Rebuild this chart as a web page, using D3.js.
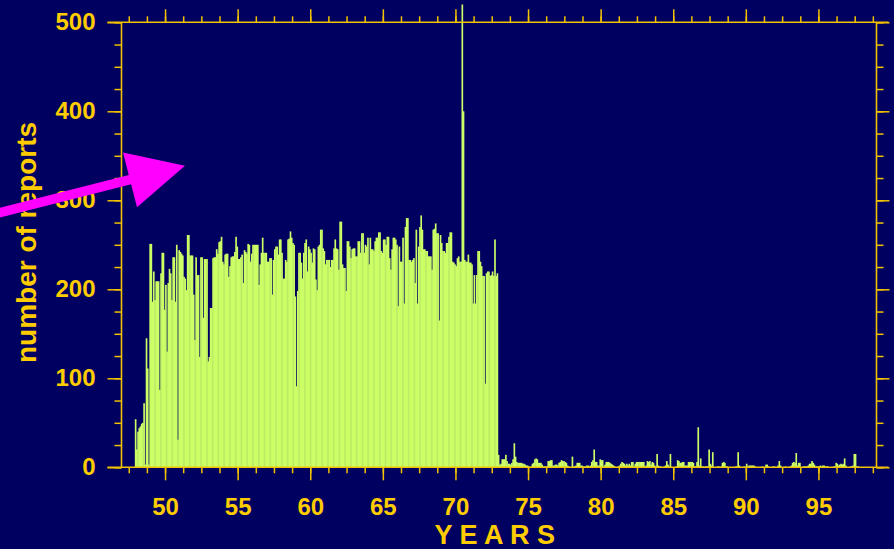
<!DOCTYPE html>
<html>
<head>
<meta charset="utf-8">
<script src="https://cdn.jsdelivr.net/npm/d3@7"></script>
<style>
  html, body { margin: 0; padding: 0; background: #000060; }
  svg { display: block; }
</style>
</head>
<body>
<svg id="chart" width="894" height="549"></svg>
<script>
// ---------------- DATA (monthly number of reports) ----------------
const startYear = 48; // first month: January 1948
const reports1948to1960 = [
  54,20,40,44,46,49,50,72,3,145,111,3,
  251,251,186,220,188,209,209,209,87,218,241,241,
  177,205,130,207,223,218,188,236,236,186,250,31,
  244,242,240,238,214,212,199,261,261,238,238,238,
  194,143,236,216,216,124,236,236,168,234,234,234,
  119,124,179,179,235,236,236,245,240,253,254,259,
  231,228,239,240,240,214,226,236,237,237,242,259,
  248,234,234,236,239,207,244,242,240,251,250,231,
  240,250,250,250,250,250,205,228,241,258,241,241,
  241,231,231,235,235,194,233,245,248,248,239,256,
  256,241,212,212,233,231,256,257,265,258,252,250,
  192,91,198,241,241,230,212,241,252,256,220,248,
  245,241,230,246,245,211,199,248,250,267,267,246
];
const reports1961to1972 = [
  243,228,233,233,233,225,233,233,246,256,246,245,
  222,276,276,228,224,224,198,254,254,248,235,245,
  246,246,237,237,254,254,241,263,263,241,250,248,
  258,228,258,245,245,243,254,258,258,264,264,243,
  241,256,256,250,259,259,235,222,245,258,258,256,
  250,181,248,231,231,258,184,270,280,280,233,233,
  231,233,235,207,267,184,248,270,283,267,245,245,
  243,243,237,237,237,222,267,268,274,263,263,165,
  261,252,243,243,241,252,252,259,264,264,231,230,
  228,226,235,237,231,231,520,400,233,231,231,239,
  230,230,228,184,216,184,216,243,243,231,226,215,
  215,94,218,220,220,215,216,220,215,256,215,218
];
const reports1973to1985 = [
  14,3,4,9,9,9,14,7,4,4,3,5,
  9,27,12,6,5,5,5,5,4,4,3,2,
  2,1,0,1,4,5,9,10,9,5,5,5,
  3,1,1,1,1,7,7,8,8,2,2,3,
  3,2,5,6,8,7,7,6,5,2,1,0,
  0,12,1,1,2,5,5,5,2,2,1,1,
  1,2,2,1,2,6,8,20,6,6,2,2,
  9,8,8,1,3,6,6,6,5,4,3,2,
  1,0,0,1,2,4,6,5,4,2,4,2,
  4,2,6,6,1,4,6,6,6,6,6,6,
  6,1,2,7,6,7,3,6,5,2,1,15,
  2,1,1,0,0,1,2,7,3,1,15,0,
  0,0,0,1,8,7,5,5,6,6,2,2
];
const reports1986to1997 = [
  2,6,6,6,6,5,1,1,6,45,2,10,
  1,1,0,1,1,1,20,4,2,17,0,0,
  0,1,1,0,1,5,6,5,1,1,0,0,
  0,0,0,0,1,1,17,2,0,0,0,1,
  0,4,1,2,2,2,2,2,1,0,0,0,
  0,0,1,0,0,3,3,1,0,0,0,1,
  1,0,0,2,7,2,0,0,0,1,0,0,
  0,1,2,5,6,5,16,2,5,5,0,0,
  1,1,1,1,2,4,4,7,5,3,1,1,
  1,1,2,1,2,2,1,1,1,0,0,0,
  0,1,1,5,4,2,3,4,3,4,10,2,
  0,0,0,1,1,2,15,15,1,1,0,0
];
const xTickValues = [50,55,60,65,70,75,80,85,90,95];
const yTickValues = [0,100,200,300,400,500];
const xAxisLabel = "Y E A R S";
const yAxisLabel = "number of reports";

// ---------------- CHART ----------------
const values = [].concat(reports1948to1960, reports1961to1972, reports1973to1985, reports1986to1997);
const monthly = values.map((v, i) => ({ t0: startYear + (i - 1) / 12, t1: startYear + i / 12, v }));

const gold = "#ffcc00";
const lineGold = "#f2c200";
const font = "'Liberation Sans', Arial, Helvetica, sans-serif";

const svg = d3.select("#chart");
svg.append("rect").attr("width", 894).attr("height", 549).attr("fill", "#000060");

const x = d3.scaleLinear().domain([47, 99]).range([121.5, 876.5]);
const y = d3.scaleLinear().domain([0, 500]).range([467.3, 22.3]);

// bars
svg.append("g").selectAll("rect").data(monthly).join("rect")
  .attr("x", d => x(d.t0))
  .attr("width", d => x(d.t1) - x(d.t0) + 0.45)
  .attr("y", d => y(d.v))
  .attr("height", d => y(0) - y(d.v))
  .attr("fill", "#ccff66");

const minorX = d3.range(0, 42).map(k => 47.5 + 1.25 * k);
const minorY = d3.range(0, 21).map(k => 25 * k);

function styleAxis(g) {
  g.select(".domain").remove();
  g.selectAll("line").attr("stroke", lineGold).attr("stroke-width", 1.5);
  g.selectAll("text").attr("fill", gold).attr("font-family", font)
    .attr("font-weight", "bold").attr("font-size", 24);
}

// bottom axis
svg.append("g").attr("transform", `translate(0,${y(0)})`)
  .call(d3.axisBottom(x).tickValues(minorX).tickSize(6).tickFormat(""))
  .call(styleAxis);
svg.append("g").attr("transform", `translate(0,${y(0)})`)
  .call(d3.axisBottom(x).tickValues(xTickValues).tickSize(13).tickPadding(18).tickFormat(d3.format("d")))
  .call(styleAxis);
// top axis
svg.append("g").attr("transform", `translate(0,${y(500)})`)
  .call(d3.axisTop(x).tickValues(minorX).tickSize(6).tickFormat(""))
  .call(styleAxis);
svg.append("g").attr("transform", `translate(0,${y(500)})`)
  .call(d3.axisTop(x).tickValues(xTickValues).tickSize(13).tickFormat(""))
  .call(styleAxis);
// left axis
svg.append("g").attr("transform", `translate(${x(47)},0)`)
  .call(d3.axisLeft(y).tickValues(minorY).tickSize(7).tickFormat(""))
  .call(styleAxis);
svg.append("g").attr("transform", `translate(${x(47)},0)`)
  .call(d3.axisLeft(y).tickValues(yTickValues).tickSize(14).tickPadding(12).tickFormat(d3.format("d")))
  .call(styleAxis);
// right axis
svg.append("g").attr("transform", `translate(${x(99)},0)`)
  .call(d3.axisRight(y).tickValues(minorY).tickSize(7).tickFormat(""))
  .call(styleAxis);
svg.append("g").attr("transform", `translate(${x(99)},0)`)
  .call(d3.axisRight(y).tickValues(yTickValues).tickSize(13).tickFormat(""))
  .call(styleAxis);

// frame lines
const frame = svg.append("g").attr("stroke", lineGold).attr("stroke-width", 1.6);
frame.append("line").attr("x1", x(47) - 14).attr("x2", x(99) + 12).attr("y1", y(0)).attr("y2", y(0));
frame.append("line").attr("x1", x(47) - 14).attr("x2", x(99) + 12).attr("y1", y(500)).attr("y2", y(500));
frame.append("line").attr("x1", x(47)).attr("x2", x(47)).attr("y1", y(500)).attr("y2", y(0));
frame.append("line").attr("x1", x(99)).attr("x2", x(99)).attr("y1", y(500)).attr("y2", y(0));

// axis titles
svg.append("text").text(xAxisLabel)
  .attr("x", 494.7).attr("y", 544)
  .attr("text-anchor", "middle").attr("fill", gold)
  .attr("font-family", font).attr("font-weight", "bold").attr("font-size", 27);
svg.append("text").text(yAxisLabel)
  .attr("transform", "translate(35.5,242.5) rotate(-90)")
  .attr("text-anchor", "middle").attr("fill", gold)
  .attr("font-family", font).attr("font-weight", "bold").attr("font-size", 28);

// magenta arrow annotation
const arrow = svg.append("g");
arrow.append("line").attr("x1", -5).attr("y1", 213.8).attr("x2", 132).attr("y2", 179.1)
  .attr("stroke", "#ff00ff").attr("stroke-width", 9.5);
arrow.append("polygon").attr("points", "123,152.5 185,165.7 137,207.3").attr("fill", "#ff00ff");
</script>
</body>
</html>
